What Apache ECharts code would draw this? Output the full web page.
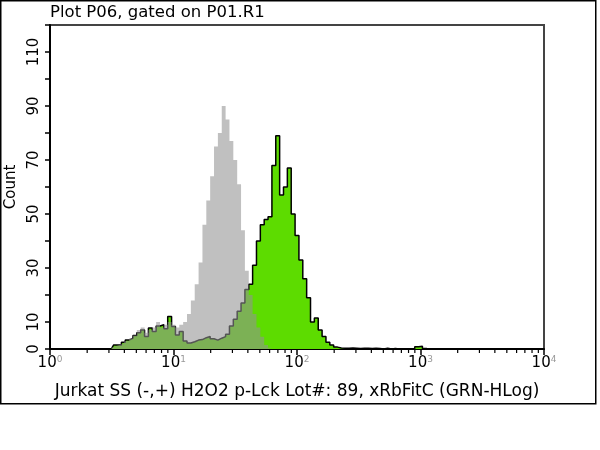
<!DOCTYPE html>
<html>
<head>
<meta charset="utf-8">
<script src="https://cdn.jsdelivr.net/npm/echarts@6/dist/echarts.min.js"></script>
<style>
html,body{margin:0;padding:0;background:#fff;}
#c{width:600px;height:450px;}
</style>
</head>
<body>
<div id="c"></div>
<script>
// Histogram bins: start decade and width (log10 units)
const binStartLog = 0.5;
const binWidthLog = 1 / 32;

// Gray (unstained / control) counts per bin
const grayCounts = [0.5, 1, 1.5, 2, 3, 4, 5, 7, 8, 6, 7, 8, 10, 8, 9, 10, 9, 8, 9, 10,
  13, 18, 24, 32, 46, 55, 64, 75, 80, 90, 85, 77, 70, 61, 44, 29, 20, 13, 8, 4.5,
  1.5, 0.5, 0];

// Green (stained) counts per bin
const greenCounts = [0.3, 1.5, 1.5, 2.5, 3.3, 4, 5, 6, 7, 4.6, 7.8, 6.5, 8.5, 9, 7.5, 12, 8.3, 5.2, 6.5, 3,
  2.2, 2.7, 3.3, 3.5, 4.2, 4.6, 3.8, 3.3, 4, 4.6, 5.5, 8.5, 11, 14, 17, 22, 24, 31, 40, 46,
  48, 49, 68, 79, 57, 60, 67, 50, 42, 33, 26, 19, 10, 11.5, 7, 4.6, 2.5, 1.5, 0.7, 0.4,
  0.3, 0.3, 0.4, 0.3, 0.2, 0.3, 0.3, 0.2, 0.3, 0.2, 0, 0.3, 0, 0.2, 0, 0, 0, 0, 0, 0.8, 1, 0.2, 0];

// Axis ticks
const minorTicks = [2, 3, 4, 5, 6, 7, 8, 9, 20, 30, 40, 50, 60, 70, 80, 90,
  200, 300, 400, 500, 600, 700, 800, 900, 2000, 3000, 4000, 5000, 6000, 7000, 8000, 9000];
const yLabels = [0, 10, 30, 50, 70, 90, 110];

const titleText = 'Plot P06, gated on P01.R1';
const xName = 'Jurkat SS (-,+) H2O2 p-Lck Lot#: 89, xRbFitC (GRN-HLog)';
const yName = 'Count';

function toPairs(counts) {
  return counts.map((c, i) => [Math.pow(10, binStartLog + i * binWidthLog), c]);
}

const FONT = 'DejaVu Sans';
const chart = echarts.init(document.getElementById('c'));
chart.setOption({
  animation: false,
  backgroundColor: '#fff',
  title: {
    text: titleText, left: 50, top: 4, padding: 0,
    textStyle: { fontFamily: FONT, fontSize: 16.5, fontWeight: 'normal', color: '#000' }
  },
  grid: { left: 50, top: 25, right: 56, bottom: 101, containLabel: false, outerBoundsMode: 'none',
    show: true, borderColor: '#444', borderWidth: 2, backgroundColor: 'transparent' },
  xAxis: {
    type: 'log', logBase: 10, min: 1, max: 10000,
    name: xName, nameLocation: 'middle', nameGap: 34,
    nameTextStyle: { fontFamily: FONT, fontSize: 17, color: '#000' },
    axisLine: { lineStyle: { color: '#000', width: 2 } },
    axisTick: { show: true, length: 6, lineStyle: { color: '#000', width: 1.5 } },
    splitLine: { show: false },
    axisLabel: {
      margin: 6,
      formatter: v => '{b|10}{s|' + Math.round(Math.log10(v)) + '}',
      rich: {
        b: { fontFamily: FONT, fontSize: 15, color: '#000' },
        s: { fontFamily: FONT, fontSize: 9, color: '#999', verticalAlign: 'top', padding: [0, 0, 8, 0] }
      }
    }
  },
  yAxis: {
    type: 'value', min: 0, max: 120, interval: 10,
    name: yName, nameLocation: 'middle', nameGap: 29, nameRotate: 90,
    nameTextStyle: { fontFamily: FONT, fontSize: 15, color: '#000' },
    axisLine: { show: true, lineStyle: { color: '#000', width: 2 } },
    axisTick: { show: true, length: 5, lineStyle: { color: '#000', width: 1.5 } },
    splitLine: { show: false },
    axisLabel: {
      rotate: 90, margin: 8,
      fontFamily: FONT, fontSize: 15, color: '#000',
      formatter: v => (yLabels.indexOf(v) >= 0 ? String(v) : '')
    }
  },
  graphic: [{
    type: 'rect', shape: { x: 0.75, y: 0.75, width: 595, height: 403 },
    style: { fill: 'none', stroke: '#000', lineWidth: 1.5 }, silent: true
  }],
  series: [
    {
      name: 'stained', type: 'line', step: 'middle', symbol: 'none',
      data: toPairs(greenCounts),
      lineStyle: { color: '#000', width: 1.5 },
      areaStyle: { color: '#5ddc00', opacity: 1 },
      z: 2
    },
    {
      name: 'control', type: 'line', step: 'middle', symbol: 'none',
      data: toPairs(grayCounts),
      lineStyle: { width: 0, opacity: 0 },
      areaStyle: { color: 'rgba(146,146,146,0.58)', opacity: 1 },
      z: 3
    },
    {
      name: 'minorTicks', type: 'custom', silent: true, clip: false, z: 5,
      data: minorTicks.map(v => [v, 0]),
      renderItem: function (params, api) {
        const p = api.coord([api.value(0), 0]);
        return { type: 'line', shape: { x1: p[0], y1: p[1], x2: p[0], y2: p[1] + 4 },
          style: { stroke: '#000', lineWidth: 1.2 } };
      }
    }
  ]
});
</script>
</body>
</html>
